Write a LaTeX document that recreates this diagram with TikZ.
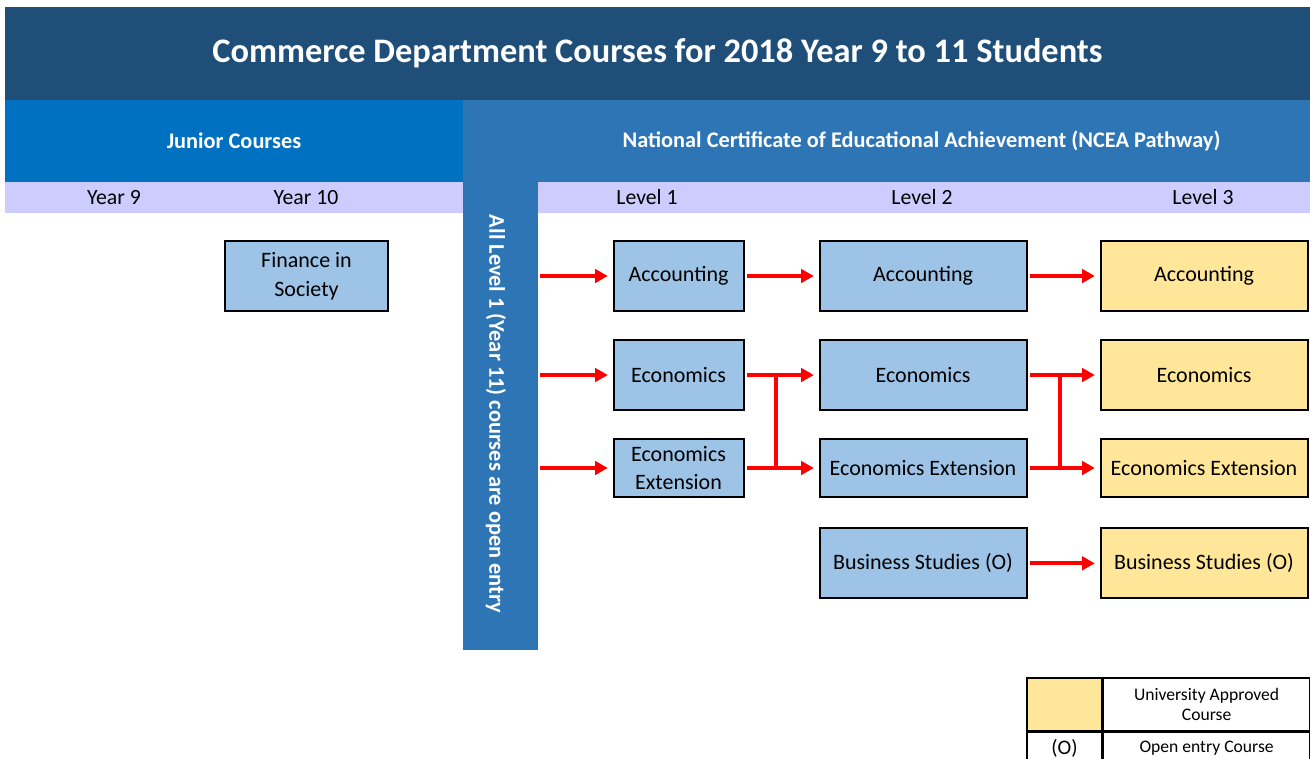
\documentclass[tikz,border=0pt]{standalone}
\usepackage{fontspec}
\setmainfont{Carlito}
\usepackage{xcolor}
\usetikzlibrary{arrows.meta, positioning, calc}

\definecolor{titleblue}{HTML}{1F4E79}
\definecolor{juniorblue}{HTML}{0070C0}
\definecolor{nceablue}{HTML}{2E75B6}
\definecolor{yearlilac}{HTML}{CCCCFF}
\definecolor{courseblue}{HTML}{9DC3E6}
\definecolor{uniyellow}{HTML}{FFE699}

\begin{document}
\begin{tikzpicture}[
    x=0.75pt, y=-0.75pt,
    node distance=20.25pt and 55.5pt,
    >={Triangle[length=9.5pt, width=10pt]},
    % Styles
    band/.style={rectangle, fill=#1, inner sep=0pt, text=white, align=center},
    headlabel/.style={text=white, font=\fontsize{16.75}{20}\selectfont\bfseries, inner sep=0pt},
    yearlabel/.style={font=\fontsize{16.3}{19}\selectfont, inner sep=0pt},
    coursebox/.style={rectangle, draw=black, fill=#1, line width=1.5pt, minimum height=52.5pt, inner sep=2pt, align=center, font=\fontsize{16.5}{21.5}\selectfont},
    flow/.style={->, draw=red, line width=3pt, shorten <=1.5pt, shorten >=3.5pt},
    redline/.style={draw=red, line width=3pt},
    legcell/.style={rectangle, draw=black, line width=1.2pt, inner sep=0pt, align=center, font=\fontsize{13.2}{15.5}\selectfont},
]
\useasboundingbox (0,0) rectangle (1310,758);

% === HEADER BANDS ===
\node[band=titleblue, minimum width=978.75pt, minimum height=69.75pt, font=\fontsize{25.8}{30}\selectfont\bfseries] (title) at (657.5,53.5) {Commerce Department Courses for 2018 Year 9 to 11 Students};
\node[band=juniorblue, minimum width=343.5pt, minimum height=61.5pt] (junior) at (234,141) {};
\node[band=nceablue, minimum width=635.25pt, minimum height=61.5pt] (ncea) at (886.5,141) {};
\node[band=yearlilac, minimum width=343.5pt, minimum height=23.25pt] (yearrow) at (234,197.5) {};
\node[band=yearlilac, minimum width=579pt, minimum height=23.25pt] (levelrow) at (924,197.5) {};
\node[band=nceablue, minimum width=56.25pt, minimum height=351pt] (openbar) at (500.5,416) {};
\node[headlabel] (juniortext) at (junior) {Junior Courses};
\node[headlabel] (nceatext) at (921.5,141) {National Certificate of Educational Achievement (NCEA Pathway)};
\node[rotate=-90, text=white, font=\fontsize{16.8}{20}\selectfont\bfseries] (opentext) at (496,414) {All Level 1 (Year 11) courses are open entry};

% === YEAR / LEVEL LABELS ===
\node[yearlabel] (yr9) at (114,197.5) {Year 9};
\node[yearlabel] (yr10) at (306,197.5) {Year 10};
\node[yearlabel] (lvl1) at (647,197.5) {Level 1};
\node[yearlabel] (lvl2) at (922,197.5) {Level 2};
\node[yearlabel] (lvl3) at (1203,197.5) {Level 3};

% === JUNIOR ===
\node[coursebox=courseblue, minimum width=122.25pt] (finance) at (306.5,276) {Finance in\\Society};

% === LEVEL 1 ===
\node[coursebox=courseblue, minimum width=97.5pt] (acc1) at (678.5,276) {Accounting};
\node[coursebox=courseblue, minimum width=97.5pt, below=of acc1] (eco1) {Economics};
\node[coursebox=courseblue, minimum width=97.5pt, minimum height=43.5pt, below=of eco1] (ext1) {Economics\\Extension};

% === LEVEL 2 ===
\node[coursebox=courseblue, minimum width=155.25pt, right=of acc1] (acc2) {Accounting};
\node[coursebox=courseblue, minimum width=155.25pt, below=of acc2] (eco2) {Economics};
\node[coursebox=courseblue, minimum width=155.25pt, minimum height=43.5pt, below=of eco2] (ext2) {Economics Extension};
\node[coursebox=courseblue, minimum width=155.25pt, below=22pt of ext2] (bus2) {Business Studies (O)};

% === LEVEL 3 ===
\node[coursebox=uniyellow, minimum width=155.25pt, right=54pt of acc2] (acc3) {Accounting};
\node[coursebox=uniyellow, minimum width=155.25pt, below=of acc3] (eco3) {Economics};
\node[coursebox=uniyellow, minimum width=155.25pt, minimum height=43.5pt, below=of eco3] (ext3) {Economics Extension};
\node[coursebox=uniyellow, minimum width=155.25pt, below=22pt of ext3] (bus3) {Business Studies (O)};

% === ENTRY ARROWS ===
\draw[flow] (openbar.east |- acc1.west) -- (acc1.west);
\draw[flow] (openbar.east |- eco1.west) -- (eco1.west);
\draw[flow] (openbar.east |- ext1.west) -- (ext1.west);

% === PATHWAY ARROWS ===
\draw[flow] (acc1) -- (acc2);
\draw[flow] (acc2) -- (acc3);
\draw[flow] (bus2) -- (bus3);
\draw[flow] (eco1) -- (eco2);
\draw[flow] (ext1) -- (ext2);
\draw[redline] ($(eco1.east)!0.42!(eco2.west)$) -- ($(ext1.east)!0.42!(ext2.west)$);
\draw[flow] (eco2) -- (eco3);
\draw[flow] (ext2) -- (ext3);
\draw[redline] ($(eco2.east)!0.45!(eco3.west)$) -- ($(ext2.east)!0.45!(ext3.west)$);

% === LEGEND ===
\node[legcell, fill=uniyellow, minimum width=56.25pt, minimum height=39.75pt] (legkey) at (1064.5,704.5) {};
\node[legcell, minimum width=154.5pt, minimum height=39.75pt, right=0pt of legkey] (legdesc) {University Approved\\Course};
\node[legcell, minimum width=56.25pt, minimum height=24pt, below=0pt of legkey, font=\fontsize{15.5}{18}\selectfont] (legmark) {(O)};
\node[legcell, minimum width=154.5pt, minimum height=24pt, below=0pt of legdesc] (legopen) {Open entry Course};

\end{tikzpicture}
\end{document}
